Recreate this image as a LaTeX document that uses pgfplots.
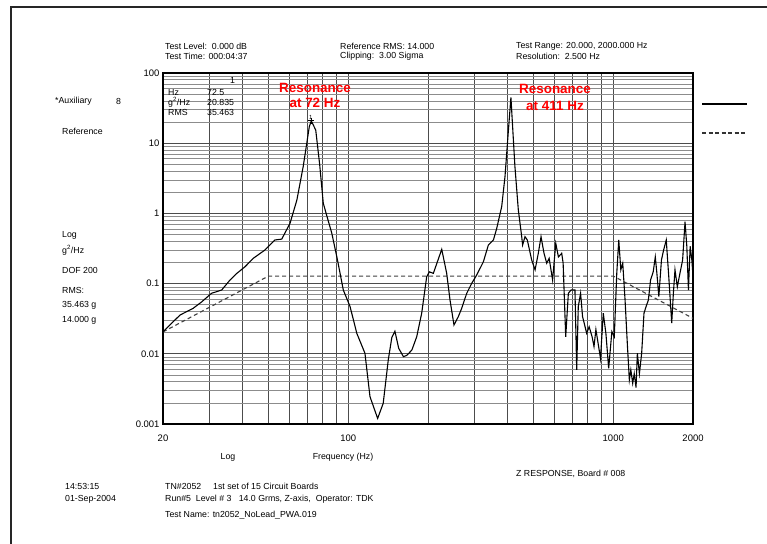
\documentclass[border=0pt]{standalone}
\usepackage{pgfplots}
\usepackage{pgfplotstable}
\pgfplotsset{compat=1.18}
\usepackage{fontspec}
\setmainfont{Liberation Sans}

% Measured response (g^2/Hz) against frequency (Hz)
\pgfplotstableread{
f psd
20 0.0205
21.5 0.027
23.2 0.0357
26.0 0.0445
28 0.055
30.5 0.0728
33.3 0.081
35.8 0.1125
38 0.14
40.8 0.174
43.8 0.229
48.5 0.301
52.9 0.418
56.1 0.43
60.3 0.723
64.0 1.55
67.6 4.63
71.3 17.2
72.5 20.835
75.4 15.4
78 5
80.5 1.39
86.7 0.52
91 0.22
95.8 0.081
101.6 0.047
107.7 0.0196
115.6 0.0102
120.8 0.00245
129.1 0.0012
135.5 0.00197
141.6 0.0082
146 0.017
150 0.021
155 0.012
161.5 0.0091
166.3 0.0095
173.8 0.0113
181.3 0.0175
189.3 0.0378
197.7 0.125
202.4 0.147
209.5 0.140
225.3 0.308
235.2 0.14
242.1 0.0584
250.6 0.0257
260.2 0.0338
268 0.0445
280 0.0728
292.4 0.101
305.5 0.133
323.6 0.205
337.9 0.355
353 0.418
363.4 0.614
379.4 1.25
390.4 3.33
402 15
411 45
418 15
425.6 4.63
438.3 1.12
451.4 0.466
455 0.355
464.5 0.466
473.9 0.418
492.4 0.216
507 0.157
521.4 0.27
533.9 0.466
548 0.27
561 0.195
573 0.229
590.4 0.1125
606.9 0.375
621 0.24
639 0.27
647 0.195
661.7 0.0175
677 0.0728
693 0.081
717 0.081
728 0.00588
738 0.047
753 0.0728
766 0.0338
794 0.0196
811 0.0243
832 0.0175
846 0.0127
860 0.0222
877 0.014
895 0.0086
917 0.0378
938 0.0196
961 0.0062
988 0.0207
1009 0.0175
1031 0.14
1049 0.418
1068 0.157
1086 0.195
1108 0.0584
1130 0.014
1150 0.00424
1165 0.0059
1184 0.0038
1200 0.0052
1219 0.0033
1233 0.0102
1255 0.0052
1280 0.0102
1306 0.0378
1330 0.047
1357 0.0584
1383 0.1125
1415 0.147
1441 0.24
1461 0.14
1486 0.0653
1520 0.216
1549 0.301
1585 0.418
1620 0.125
1662 0.0274
1686 0.0728
1710 0.157
1745 0.09
1785 0.14
1827 0.216
1866 0.762
1895 0.34
1922 0.081
1951 0.34
1980 0.216
2000 0.125
}\responsedata

% Reference profile (g^2/Hz)
\pgfplotstableread{
f psd
20 0.0205
50 0.128
1000 0.128
2000 0.032
}\referencedata

\newcommand{\smalltext}{\fontsize{8.8}{10}\selectfont}
\newcommand{\redtext}{\fontsize{13.5}{15}\selectfont\bfseries}

\begin{document}
\begin{tikzpicture}[x=1bp,y=1bp]
\useasboundingbox (0,0) rectangle (767,544);
\fill[white] (0,0) rectangle (767,544);
% page frame
\draw[line width=1.8bp, black!85] (11,0) -- (11,537) -- (767,537);

\begin{axis}[
  at={(163bp,120bp)}, anchor=south west,
  scale only axis, width=530bp, height=351bp,
  xmode=log, ymode=log,
  xmin=20, xmax=2000, ymin=0.001, ymax=100,
  xtick={20,30,40,50,60,70,80,90,100,200,300,400,500,600,700,800,900,1000,2000},
  xticklabels={20,,,,,,,,100,,,,,,,,,1000,2000},
  ytick={0.001,0.01,0.1,1,10,100},
  yticklabels={0.001,0.01,0.1,1,10,100},
  xmajorgrids=true, xminorgrids=false,
  ymajorgrids=true, yminorgrids=true,
  major grid style={black!70, line width=0.7bp},
  minor grid style={black!45, line width=0.6bp},
  tick style={draw=none},
  axis line style={line width=1.4bp},
  tick label style={font=\fontsize{9.5}{11}\selectfont},
  xticklabel style={yshift=-7bp},
  /pgf/number format/assume math mode=true,
]
  % reference profile
  \addplot[black!75, line width=1.1bp, dash pattern=on 4bp off 3bp] table[x=f, y=psd] {\referencedata};
  % control response
  \addplot[black, line width=1.1bp] table[x=f, y=psd] {\responsedata};
  % cursor at the first resonance
  \addplot[only marks, mark=+, mark size=3bp, black, line width=0.8bp] coordinates {(72.5,20.835)};
\end{axis}

% header
\begin{scope}[every node/.style={anchor=west, inner sep=0pt, font=\smalltext}]
  \node at (165,498) {Test Level:\ \ 0.000 dB};
  \node at (165,488) {Test Time: 000:04:37};
  \node at (340,498) {Reference RMS: 14.000};
  \node at (340,488) {Clipping:\ \ 3.00 Sigma};
  \node at (516,498) {Test Range: 20.000, 2000.000 Hz};
  \node at (516,488) {Resolution:\ \ 2.500 Hz};
  % left panel
  \node at (55,443) {*Auxiliary};
  \node at (116,443) {8};
  \node at (62,413) {Reference};
  \node at (62,309) {Log};
  \node at (62,294) {g\textsuperscript{2}/Hz};
  \node at (62,274) {DOF 200};
  \node at (62,254) {RMS:};
  \node at (62,239) {35.463 g};
  \node at (62,224) {14.000 g};
  % cursor readout
  \node at (168,452) {Hz};
  \node at (207,452) {72.5};
  \node at (168,442) {g\textsuperscript{2}/Hz};
  \node at (207,442) {20.835};
  \node at (168,432) {RMS};
  \node at (207,432) {35.463};
  \node at (230,464) {1};
  \node[font=\fontsize{6}{7}\selectfont] at (309,427) {1};
  % footer
  \node[anchor=center] at (228,87) {Log};
  \node[anchor=center] at (343,87) {Frequency (Hz)};
  \node at (516,70) {Z RESPONSE, Board \# 008};
  \node at (65,58) {14:53:15};
  \node at (65,45) {01-Sep-2004};
  \node at (165,58) {TN\#2052};
  \node at (213,58) {1st set of 15 Circuit Boards};
  \node at (165,45) {Run\#5\ \ Level \# 3\ \ \ 14.0 Grms, Z-axis,\ \ Operator: TDK};
  \node at (165,29) {Test Name: tn2052\_NoLead\_PWA.019};
\end{scope}

% resonance call-outs
\begin{scope}[every node/.style={red, font=\redtext, inner sep=0pt, anchor=center}]
  \node at (315,456) {Resonance};
  \node at (315,441) {at 72 Hz};
  \node at (555,455) {Resonance};
  \node at (555,438) {at 411 Hz};
\end{scope}

% trace keys
\draw[black, line width=1.6bp] (702,440) -- (747,440);
\draw[black!80, line width=1.6bp, dash pattern=on 4bp off 2.5bp] (702,411) -- (747,411);
\end{tikzpicture}
\end{document}
